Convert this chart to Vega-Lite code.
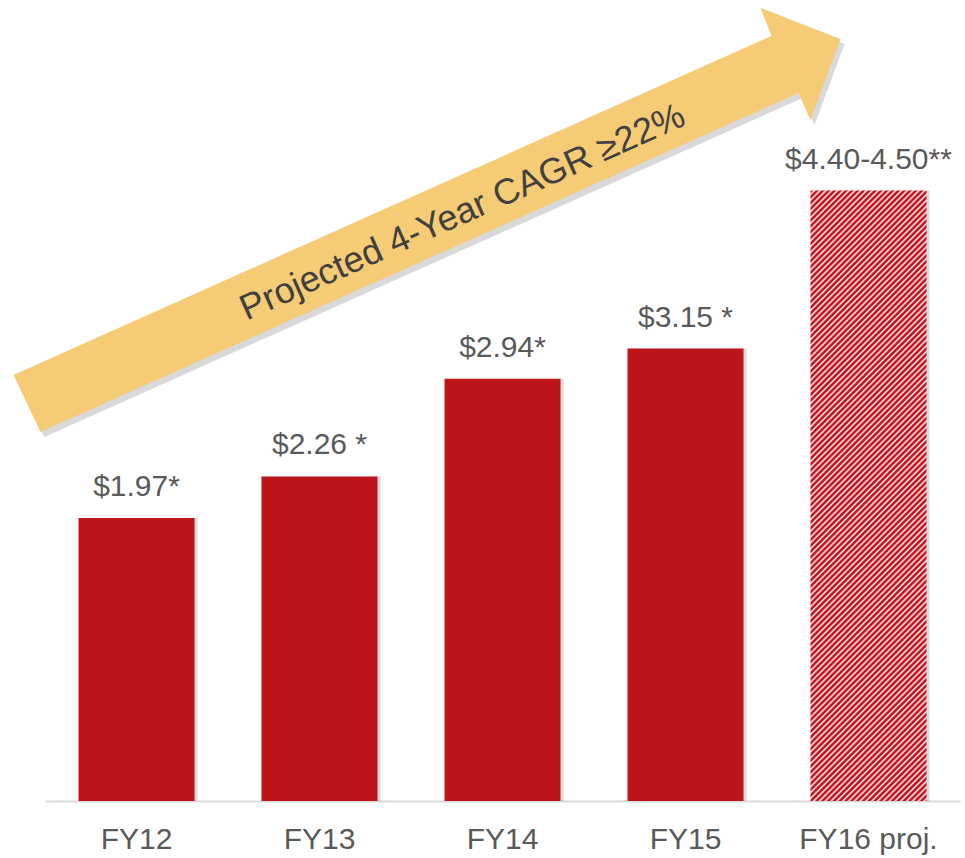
{
  "$schema": "https://vega.github.io/schema/vega-lite/v6.json",
  "width": 915,
  "height": 790,
  "autosize": {"type": "none"},
  "padding": {"left": 45, "top": 11, "right": 5, "bottom": 57},
  "background": "white",
  "config": {"view": {"stroke": null}, "font": "Liberation Sans"},
  "datasets": {
    "bars": [
      {"year": "FY12", "value": 1.97, "label": "$1.97*", "kind": "actual"},
      {"year": "FY13", "value": 2.26, "label": "$2.26 *", "kind": "actual"},
      {"year": "FY14", "value": 2.94, "label": "$2.94*", "kind": "actual"},
      {"year": "FY15", "value": 3.15, "label": "$3.15 *", "kind": "actual"},
      {"year": "FY16 proj.", "value": 4.25, "label": "$4.40-4.50**", "kind": "projected"}
    ],
    "note": [{"year": "FY14", "value": 4.0, "text": "Projected 4-Year CAGR ≥22%"}]
  },
  "encoding": {
    "x": {
      "field": "year", "type": "nominal", "sort": null,
      "scale": {"domain": ["FY12", "FY13", "FY14", "FY15", "FY16 proj."], "paddingInner": 0.366, "paddingOuter": 0.183},
      "axis": {"title": null, "ticks": false, "tickSize": 0, "labelPadding": 47, "labelBaseline": "alphabetic", "labelFontSize": 30, "labelColor": "#595959", "labelFont": "Liberation Sans", "domainColor": "#D9D9D9", "domainWidth": 2, "labelAngle": 0, "grid": false}
    },
    "y": {"field": "value", "type": "quantitative", "scale": {"domain": [0, 5.5], "nice": false}, "axis": null}
  },
  "layer": [
    {
      "data": {"name": "note"},
      "mark": {"type": "point", "shape": "M-0.978,0.297L0.538,-0.381L0.516,-0.437L0.676,-0.375L0.616,-0.213L0.592,-0.267L-0.924,0.411Z", "size": 1000000, "filled": true, "strokeWidth": 0, "color": "#808080", "opacity": 0.3, "xOffset": 4, "yOffset": 5}
    },
    {
      "data": {"name": "note"},
      "mark": {"type": "point", "shape": "M-0.978,0.297L0.538,-0.381L0.516,-0.437L0.676,-0.375L0.616,-0.213L0.592,-0.267L-0.924,0.411Z", "size": 1000000, "filled": true, "strokeWidth": 0, "color": "#F6CB76", "opacity": 1}
    },
    {
      "data": {"name": "note"},
      "mark": {"type": "text", "angle": -24, "fontSize": 36, "color": "#404040", "align": "center", "baseline": "middle", "xOffset": -40, "yOffset": -14},
      "encoding": {"text": {"field": "text"}}
    },
    {
      "data": {"name": "bars"},
      "mark": {"type": "bar", "color": "#000000", "opacity": 0.15, "xOffset": 3}
    },
    {
      "data": {"name": "bars"},
      "transform": [{"filter": "datum.kind === 'actual'"}],
      "mark": {"type": "bar", "color": "#BB1419"}
    },
    {
      "data": {"name": "bars"},
      "transform": [{"filter": "datum.kind === 'projected'"}],
      "mark": {"type": "bar", "fill": {"gradient": "linear", "x1": 0, "y1": 0, "x2": 0.218, "y2": 1.148, "stops": [
        {"offset":0,"color":"#c8101a"},{"offset":0.0024,"color":"#c8101a"},{"offset":0.0052,"color":"#fff"},{"offset":0.008,"color":"#c8101a"},{"offset":0.0104,"color":"#c8101a"},{"offset":0.0132,"color":"#fff"},{"offset":0.016,"color":"#c8101a"},{"offset":0.0184,"color":"#c8101a"},{"offset":0.0212,"color":"#fff"},{"offset":0.024,"color":"#c8101a"},{"offset":0.0264,"color":"#c8101a"},{"offset":0.0292,"color":"#fff"},{"offset":0.032,"color":"#c8101a"},{"offset":0.0344,"color":"#c8101a"},{"offset":0.0372,"color":"#fff"},
        {"offset":0.04,"color":"#c8101a"},{"offset":0.0424,"color":"#c8101a"},{"offset":0.0452,"color":"#fff"},{"offset":0.048,"color":"#c8101a"},{"offset":0.0504,"color":"#c8101a"},{"offset":0.0532,"color":"#fff"},{"offset":0.056,"color":"#c8101a"},{"offset":0.0584,"color":"#c8101a"},{"offset":0.0612,"color":"#fff"},{"offset":0.064,"color":"#c8101a"},{"offset":0.0664,"color":"#c8101a"},{"offset":0.0692,"color":"#fff"},{"offset":0.072,"color":"#c8101a"},{"offset":0.0744,"color":"#c8101a"},{"offset":0.0772,"color":"#fff"},
        {"offset":0.08,"color":"#c8101a"},{"offset":0.0824,"color":"#c8101a"},{"offset":0.0852,"color":"#fff"},{"offset":0.088,"color":"#c8101a"},{"offset":0.0904,"color":"#c8101a"},{"offset":0.0932,"color":"#fff"},{"offset":0.096,"color":"#c8101a"},{"offset":0.0984,"color":"#c8101a"},{"offset":0.1012,"color":"#fff"},{"offset":0.104,"color":"#c8101a"},{"offset":0.1064,"color":"#c8101a"},{"offset":0.1092,"color":"#fff"},{"offset":0.112,"color":"#c8101a"},{"offset":0.1144,"color":"#c8101a"},{"offset":0.1172,"color":"#fff"},
        {"offset":0.12,"color":"#c8101a"},{"offset":0.1224,"color":"#c8101a"},{"offset":0.1252,"color":"#fff"},{"offset":0.128,"color":"#c8101a"},{"offset":0.1304,"color":"#c8101a"},{"offset":0.1332,"color":"#fff"},{"offset":0.136,"color":"#c8101a"},{"offset":0.1384,"color":"#c8101a"},{"offset":0.1412,"color":"#fff"},{"offset":0.144,"color":"#c8101a"},{"offset":0.1464,"color":"#c8101a"},{"offset":0.1492,"color":"#fff"},{"offset":0.152,"color":"#c8101a"},{"offset":0.1544,"color":"#c8101a"},{"offset":0.1572,"color":"#fff"},
        {"offset":0.16,"color":"#c8101a"},{"offset":0.1624,"color":"#c8101a"},{"offset":0.1652,"color":"#fff"},{"offset":0.168,"color":"#c8101a"},{"offset":0.1704,"color":"#c8101a"},{"offset":0.1732,"color":"#fff"},{"offset":0.176,"color":"#c8101a"},{"offset":0.1784,"color":"#c8101a"},{"offset":0.1812,"color":"#fff"},{"offset":0.184,"color":"#c8101a"},{"offset":0.1864,"color":"#c8101a"},{"offset":0.1892,"color":"#fff"},{"offset":0.192,"color":"#c8101a"},{"offset":0.1944,"color":"#c8101a"},{"offset":0.1972,"color":"#fff"},
        {"offset":0.2,"color":"#c8101a"},{"offset":0.2024,"color":"#c8101a"},{"offset":0.2052,"color":"#fff"},{"offset":0.208,"color":"#c8101a"},{"offset":0.2104,"color":"#c8101a"},{"offset":0.2132,"color":"#fff"},{"offset":0.216,"color":"#c8101a"},{"offset":0.2184,"color":"#c8101a"},{"offset":0.2212,"color":"#fff"},{"offset":0.224,"color":"#c8101a"},{"offset":0.2264,"color":"#c8101a"},{"offset":0.2292,"color":"#fff"},{"offset":0.232,"color":"#c8101a"},{"offset":0.2344,"color":"#c8101a"},{"offset":0.2372,"color":"#fff"},
        {"offset":0.24,"color":"#c8101a"},{"offset":0.2424,"color":"#c8101a"},{"offset":0.2452,"color":"#fff"},{"offset":0.248,"color":"#c8101a"},{"offset":0.2504,"color":"#c8101a"},{"offset":0.2532,"color":"#fff"},{"offset":0.256,"color":"#c8101a"},{"offset":0.2584,"color":"#c8101a"},{"offset":0.2612,"color":"#fff"},{"offset":0.264,"color":"#c8101a"},{"offset":0.2664,"color":"#c8101a"},{"offset":0.2692,"color":"#fff"},{"offset":0.272,"color":"#c8101a"},{"offset":0.2744,"color":"#c8101a"},{"offset":0.2772,"color":"#fff"},
        {"offset":0.28,"color":"#c8101a"},{"offset":0.2824,"color":"#c8101a"},{"offset":0.2852,"color":"#fff"},{"offset":0.288,"color":"#c8101a"},{"offset":0.2904,"color":"#c8101a"},{"offset":0.2932,"color":"#fff"},{"offset":0.296,"color":"#c8101a"},{"offset":0.2984,"color":"#c8101a"},{"offset":0.3012,"color":"#fff"},{"offset":0.304,"color":"#c8101a"},{"offset":0.3064,"color":"#c8101a"},{"offset":0.3092,"color":"#fff"},{"offset":0.312,"color":"#c8101a"},{"offset":0.3144,"color":"#c8101a"},{"offset":0.3172,"color":"#fff"},
        {"offset":0.32,"color":"#c8101a"},{"offset":0.3224,"color":"#c8101a"},{"offset":0.3252,"color":"#fff"},{"offset":0.328,"color":"#c8101a"},{"offset":0.3304,"color":"#c8101a"},{"offset":0.3332,"color":"#fff"},{"offset":0.336,"color":"#c8101a"},{"offset":0.3384,"color":"#c8101a"},{"offset":0.3412,"color":"#fff"},{"offset":0.344,"color":"#c8101a"},{"offset":0.3464,"color":"#c8101a"},{"offset":0.3492,"color":"#fff"},{"offset":0.352,"color":"#c8101a"},{"offset":0.3544,"color":"#c8101a"},{"offset":0.3572,"color":"#fff"},
        {"offset":0.36,"color":"#c8101a"},{"offset":0.3624,"color":"#c8101a"},{"offset":0.3652,"color":"#fff"},{"offset":0.368,"color":"#c8101a"},{"offset":0.3704,"color":"#c8101a"},{"offset":0.3732,"color":"#fff"},{"offset":0.376,"color":"#c8101a"},{"offset":0.3784,"color":"#c8101a"},{"offset":0.3812,"color":"#fff"},{"offset":0.384,"color":"#c8101a"},{"offset":0.3864,"color":"#c8101a"},{"offset":0.3892,"color":"#fff"},{"offset":0.392,"color":"#c8101a"},{"offset":0.3944,"color":"#c8101a"},{"offset":0.3972,"color":"#fff"},
        {"offset":0.4,"color":"#c8101a"},{"offset":0.4024,"color":"#c8101a"},{"offset":0.4052,"color":"#fff"},{"offset":0.408,"color":"#c8101a"},{"offset":0.4104,"color":"#c8101a"},{"offset":0.4132,"color":"#fff"},{"offset":0.416,"color":"#c8101a"},{"offset":0.4184,"color":"#c8101a"},{"offset":0.4212,"color":"#fff"},{"offset":0.424,"color":"#c8101a"},{"offset":0.4264,"color":"#c8101a"},{"offset":0.4292,"color":"#fff"},{"offset":0.432,"color":"#c8101a"},{"offset":0.4344,"color":"#c8101a"},{"offset":0.4372,"color":"#fff"},
        {"offset":0.44,"color":"#c8101a"},{"offset":0.4424,"color":"#c8101a"},{"offset":0.4452,"color":"#fff"},{"offset":0.448,"color":"#c8101a"},{"offset":0.4504,"color":"#c8101a"},{"offset":0.4532,"color":"#fff"},{"offset":0.456,"color":"#c8101a"},{"offset":0.4584,"color":"#c8101a"},{"offset":0.4612,"color":"#fff"},{"offset":0.464,"color":"#c8101a"},{"offset":0.4664,"color":"#c8101a"},{"offset":0.4692,"color":"#fff"},{"offset":0.472,"color":"#c8101a"},{"offset":0.4744,"color":"#c8101a"},{"offset":0.4772,"color":"#fff"},
        {"offset":0.48,"color":"#c8101a"},{"offset":0.4824,"color":"#c8101a"},{"offset":0.4852,"color":"#fff"},{"offset":0.488,"color":"#c8101a"},{"offset":0.4904,"color":"#c8101a"},{"offset":0.4932,"color":"#fff"},{"offset":0.496,"color":"#c8101a"},{"offset":0.4984,"color":"#c8101a"},{"offset":0.5012,"color":"#fff"},{"offset":0.504,"color":"#c8101a"},{"offset":0.5064,"color":"#c8101a"},{"offset":0.5092,"color":"#fff"},{"offset":0.512,"color":"#c8101a"},{"offset":0.5144,"color":"#c8101a"},{"offset":0.5172,"color":"#fff"},
        {"offset":0.52,"color":"#c8101a"},{"offset":0.5224,"color":"#c8101a"},{"offset":0.5252,"color":"#fff"},{"offset":0.528,"color":"#c8101a"},{"offset":0.5304,"color":"#c8101a"},{"offset":0.5332,"color":"#fff"},{"offset":0.536,"color":"#c8101a"},{"offset":0.5384,"color":"#c8101a"},{"offset":0.5412,"color":"#fff"},{"offset":0.544,"color":"#c8101a"},{"offset":0.5464,"color":"#c8101a"},{"offset":0.5492,"color":"#fff"},{"offset":0.552,"color":"#c8101a"},{"offset":0.5544,"color":"#c8101a"},{"offset":0.5572,"color":"#fff"},
        {"offset":0.56,"color":"#c8101a"},{"offset":0.5624,"color":"#c8101a"},{"offset":0.5652,"color":"#fff"},{"offset":0.568,"color":"#c8101a"},{"offset":0.5704,"color":"#c8101a"},{"offset":0.5732,"color":"#fff"},{"offset":0.576,"color":"#c8101a"},{"offset":0.5784,"color":"#c8101a"},{"offset":0.5812,"color":"#fff"},{"offset":0.584,"color":"#c8101a"},{"offset":0.5864,"color":"#c8101a"},{"offset":0.5892,"color":"#fff"},{"offset":0.592,"color":"#c8101a"},{"offset":0.5944,"color":"#c8101a"},{"offset":0.5972,"color":"#fff"},
        {"offset":0.6,"color":"#c8101a"},{"offset":0.6024,"color":"#c8101a"},{"offset":0.6052,"color":"#fff"},{"offset":0.608,"color":"#c8101a"},{"offset":0.6104,"color":"#c8101a"},{"offset":0.6132,"color":"#fff"},{"offset":0.616,"color":"#c8101a"},{"offset":0.6184,"color":"#c8101a"},{"offset":0.6212,"color":"#fff"},{"offset":0.624,"color":"#c8101a"},{"offset":0.6264,"color":"#c8101a"},{"offset":0.6292,"color":"#fff"},{"offset":0.632,"color":"#c8101a"},{"offset":0.6344,"color":"#c8101a"},{"offset":0.6372,"color":"#fff"},
        {"offset":0.64,"color":"#c8101a"},{"offset":0.6424,"color":"#c8101a"},{"offset":0.6452,"color":"#fff"},{"offset":0.648,"color":"#c8101a"},{"offset":0.6504,"color":"#c8101a"},{"offset":0.6532,"color":"#fff"},{"offset":0.656,"color":"#c8101a"},{"offset":0.6584,"color":"#c8101a"},{"offset":0.6612,"color":"#fff"},{"offset":0.664,"color":"#c8101a"},{"offset":0.6664,"color":"#c8101a"},{"offset":0.6692,"color":"#fff"},{"offset":0.672,"color":"#c8101a"},{"offset":0.6744,"color":"#c8101a"},{"offset":0.6772,"color":"#fff"},
        {"offset":0.68,"color":"#c8101a"},{"offset":0.6824,"color":"#c8101a"},{"offset":0.6852,"color":"#fff"},{"offset":0.688,"color":"#c8101a"},{"offset":0.6904,"color":"#c8101a"},{"offset":0.6932,"color":"#fff"},{"offset":0.696,"color":"#c8101a"},{"offset":0.6984,"color":"#c8101a"},{"offset":0.7012,"color":"#fff"},{"offset":0.704,"color":"#c8101a"},{"offset":0.7064,"color":"#c8101a"},{"offset":0.7092,"color":"#fff"},{"offset":0.712,"color":"#c8101a"},{"offset":0.7144,"color":"#c8101a"},{"offset":0.7172,"color":"#fff"},
        {"offset":0.72,"color":"#c8101a"},{"offset":0.7224,"color":"#c8101a"},{"offset":0.7252,"color":"#fff"},{"offset":0.728,"color":"#c8101a"},{"offset":0.7304,"color":"#c8101a"},{"offset":0.7332,"color":"#fff"},{"offset":0.736,"color":"#c8101a"},{"offset":0.7384,"color":"#c8101a"},{"offset":0.7412,"color":"#fff"},{"offset":0.744,"color":"#c8101a"},{"offset":0.7464,"color":"#c8101a"},{"offset":0.7492,"color":"#fff"},{"offset":0.752,"color":"#c8101a"},{"offset":0.7544,"color":"#c8101a"},{"offset":0.7572,"color":"#fff"},
        {"offset":0.76,"color":"#c8101a"},{"offset":0.7624,"color":"#c8101a"},{"offset":0.7652,"color":"#fff"},{"offset":0.768,"color":"#c8101a"},{"offset":0.7704,"color":"#c8101a"},{"offset":0.7732,"color":"#fff"},{"offset":0.776,"color":"#c8101a"},{"offset":0.7784,"color":"#c8101a"},{"offset":0.7812,"color":"#fff"},{"offset":0.784,"color":"#c8101a"},{"offset":0.7864,"color":"#c8101a"},{"offset":0.7892,"color":"#fff"},{"offset":0.792,"color":"#c8101a"},{"offset":0.7944,"color":"#c8101a"},{"offset":0.7972,"color":"#fff"},
        {"offset":0.8,"color":"#c8101a"},{"offset":0.8024,"color":"#c8101a"},{"offset":0.8052,"color":"#fff"},{"offset":0.808,"color":"#c8101a"},{"offset":0.8104,"color":"#c8101a"},{"offset":0.8132,"color":"#fff"},{"offset":0.816,"color":"#c8101a"},{"offset":0.8184,"color":"#c8101a"},{"offset":0.8212,"color":"#fff"},{"offset":0.824,"color":"#c8101a"},{"offset":0.8264,"color":"#c8101a"},{"offset":0.8292,"color":"#fff"},{"offset":0.832,"color":"#c8101a"},{"offset":0.8344,"color":"#c8101a"},{"offset":0.8372,"color":"#fff"},
        {"offset":0.84,"color":"#c8101a"},{"offset":0.8424,"color":"#c8101a"},{"offset":0.8452,"color":"#fff"},{"offset":0.848,"color":"#c8101a"},{"offset":0.8504,"color":"#c8101a"},{"offset":0.8532,"color":"#fff"},{"offset":0.856,"color":"#c8101a"},{"offset":0.8584,"color":"#c8101a"},{"offset":0.8612,"color":"#fff"},{"offset":0.864,"color":"#c8101a"},{"offset":0.8664,"color":"#c8101a"},{"offset":0.8692,"color":"#fff"},{"offset":0.872,"color":"#c8101a"},{"offset":0.8744,"color":"#c8101a"},{"offset":0.8772,"color":"#fff"},
        {"offset":0.88,"color":"#c8101a"},{"offset":0.8824,"color":"#c8101a"},{"offset":0.8852,"color":"#fff"},{"offset":0.888,"color":"#c8101a"},{"offset":0.8904,"color":"#c8101a"},{"offset":0.8932,"color":"#fff"},{"offset":0.896,"color":"#c8101a"},{"offset":0.8984,"color":"#c8101a"},{"offset":0.9012,"color":"#fff"},{"offset":0.904,"color":"#c8101a"},{"offset":0.9064,"color":"#c8101a"},{"offset":0.9092,"color":"#fff"},{"offset":0.912,"color":"#c8101a"},{"offset":0.9144,"color":"#c8101a"},{"offset":0.9172,"color":"#fff"},
        {"offset":0.92,"color":"#c8101a"},{"offset":0.9224,"color":"#c8101a"},{"offset":0.9252,"color":"#fff"},{"offset":0.928,"color":"#c8101a"},{"offset":0.9304,"color":"#c8101a"},{"offset":0.9332,"color":"#fff"},{"offset":0.936,"color":"#c8101a"},{"offset":0.9384,"color":"#c8101a"},{"offset":0.9412,"color":"#fff"},{"offset":0.944,"color":"#c8101a"},{"offset":0.9464,"color":"#c8101a"},{"offset":0.9492,"color":"#fff"},{"offset":0.952,"color":"#c8101a"},{"offset":0.9544,"color":"#c8101a"},{"offset":0.9572,"color":"#fff"},
        {"offset":0.96,"color":"#c8101a"},{"offset":0.9624,"color":"#c8101a"},{"offset":0.9652,"color":"#fff"},{"offset":0.968,"color":"#c8101a"},{"offset":0.9704,"color":"#c8101a"},{"offset":0.9732,"color":"#fff"},{"offset":0.976,"color":"#c8101a"},{"offset":0.9784,"color":"#c8101a"},{"offset":0.9812,"color":"#fff"},{"offset":0.984,"color":"#c8101a"},{"offset":0.9864,"color":"#c8101a"},{"offset":0.9892,"color":"#fff"},{"offset":0.992,"color":"#c8101a"},{"offset":0.9944,"color":"#c8101a"},{"offset":0.9972,"color":"#fff"},
        {"offset":1,"color":"#c8101a"}
      ]}}
    },
    {
      "data": {"name": "bars"},
      "mark": {"type": "text", "dy": -22, "fontSize": 30, "color": "#595959", "baseline": "alphabetic", "align": "center"},
      "encoding": {"text": {"field": "label"}}
    }
  ]
}
